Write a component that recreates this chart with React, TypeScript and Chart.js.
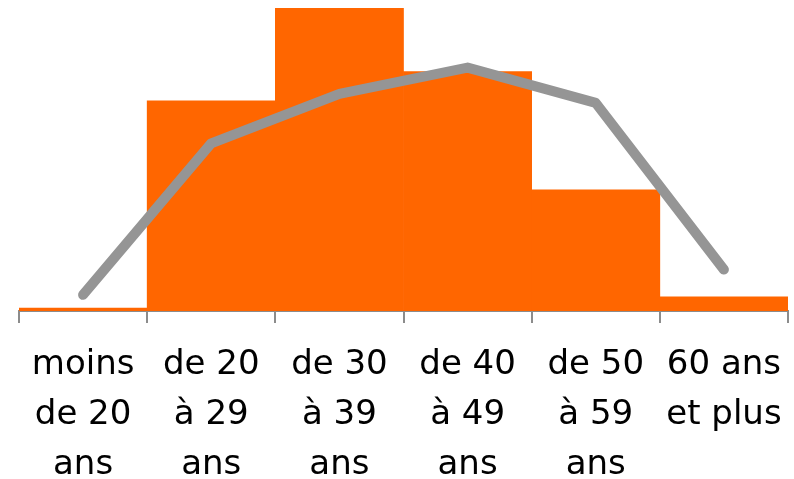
import React, { useEffect, useRef } from "react";
import { Chart, registerables } from "chart.js";

Chart.register(...registerables);

const categories: string[][] = [
  ["moins", "de 20", "ans"],
  ["de 20", "à 29", "ans"],
  ["de 30", "à 39", "ans"],
  ["de 40", "à 49", "ans"],
  ["de 50", "à 59", "ans"],
  ["60 ans", "et plus"],
];
const barValues = [0.3, 20.8, 30, 23.7, 12, 1.4];
const lineValues = [1.6, 16.6, 21.5, 24.1, 20.6, 4.1];

export default function App() {
  const ref = useRef<HTMLCanvasElement | null>(null);
  useEffect(() => {
    if (!ref.current) return;
    const chart = new Chart(ref.current, {
      type: "bar",
      data: {
        labels: categories,
        datasets: [
          {
            type: "line",
            data: lineValues,
            borderColor: "#959595",
            borderWidth: 10,
            borderCapStyle: "round",
            borderJoinStyle: "round",
            pointRadius: 0,
            tension: 0,
            order: 0,
          } as any,
          {
            type: "bar",
            data: barValues,
            backgroundColor: "#FF6600",
            borderWidth: 0,
            categoryPercentage: 1,
            barPercentage: 1,
            order: 1,
          },
        ],
      },
      options: {
        animation: false,
        responsive: true,
        maintainAspectRatio: false,
        layout: { padding: { top: 8, left: 19, right: 6, bottom: 0 } },
        plugins: { legend: { display: false }, tooltip: { enabled: false } },
        scales: {
          y: { display: false, min: 0, max: 30 },
          x: {
            afterFit: (scale: any) => {
              scale.height = 168;
              scale.paddingLeft = 0;
              scale.paddingRight = 0;
            },
            border: { display: true, color: "#8c8c8c", width: 2 },
            grid: {
              drawOnChartArea: false,
              offset: true,
              color: "#8c8c8c",
              lineWidth: 2,
              tickLength: 12,
            },
            ticks: {
              color: "#000",
              padding: 17,
              maxRotation: 0,
              autoSkip: false,
              font: { family: "'DejaVu Sans', Verdana, sans-serif", size: 34, lineHeight: 50 / 34 },
            },
          },
        },
      },
    });
    return () => chart.destroy();
  }, []);
  return (
    <div style={{ position: "fixed", left: 0, top: 0, width: 794, height: 479, background: "#fff" }}>
      <canvas ref={ref} />
    </div>
  );
}
